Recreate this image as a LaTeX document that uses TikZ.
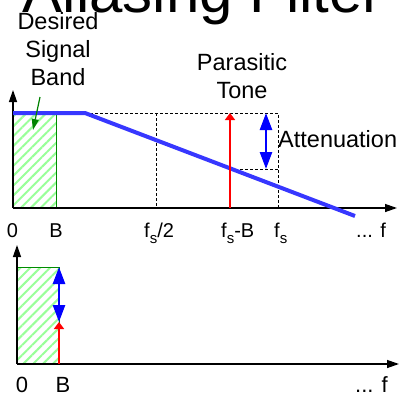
\documentclass[tikz,border=0pt]{standalone}
\usepackage{fontspec}
\setmainfont{Liberation Sans}
\usetikzlibrary{arrows.meta,patterns.meta}
\newcommand\subsc[1]{\raisebox{-6pt}{\fontsize{15}{15}\selectfont #1}}
\definecolor{filtblue}{RGB}{55,55,255}
\definecolor{darkgrn}{RGB}{0,130,0}
\begin{document}
\begin{tikzpicture}[x=1pt,y=-1pt,
  axis/.style={line width=1.3pt,-{Triangle[length=12pt,width=8pt]}},
  lbl/.style={font=\fontsize{20}{24}\selectfont,anchor=base,inner sep=0pt},
  lblb/.style={font=\fontsize{22}{26}\selectfont,anchor=base,inner sep=0pt},
  txt/.style={font=\fontsize{23.5}{28}\selectfont,anchor=base,inner sep=0pt},
  dsh/.style={line width=0.9pt,dash pattern=on 3pt off 2pt},
  hatch/.style={pattern={Lines[angle=45,distance=7pt,line width=2pt]},pattern color=green!40!white,draw=green!55!black,line width=0.8pt},
  filt/.style={filtblue,line width=4pt},
  tone/.style={red,line width=2.5pt,-{Triangle[length=7pt,width=10pt]}},
  atten/.style={blue,line width=2.5pt,{Triangle[length=17pt,width=12pt]}-{Triangle[length=17pt,width=12pt]}},
  grnarrow/.style={darkgrn,line width=1.2pt,-{Triangle[length=11pt,width=7pt]}}]
\useasboundingbox (0,0) rectangle (400,397);
\clip (0,0) rectangle (400,397);
% title (cut by the top edge)
\node[font=\fontsize{60}{72}\selectfont,anchor=base east,inner sep=0pt] (title) at (383,12) {Anti-Aliasing Filter};
% ---------- top plot ----------
\coordinate (o1) at (13,208);
\coordinate (yt1) at (13,90);
\coordinate (xt1) at (397,208);
\coordinate (pass) at (13,113);
\coordinate (knee) at (85,113);
\coordinate (fend) at (355,216);
\coordinate (bt) at (56,113);
\coordinate (hs) at (156,113);
\coordinate (hsb) at (156,208);
\coordinate (fsb) at (278,208);
\coordinate (fst) at (278,113);
\coordinate (tb) at (230,208);
\coordinate (tt) at (230,113);
\coordinate (tm) at (230,169);
\coordinate (fsm) at (278,169);
\coordinate (at) at (266,113);
\coordinate (ab) at (266,169);
\fill[hatch] (o1) rectangle (bt);
\draw[green!55!black,line width=0.8pt] (bt) -- (56,208);
\draw[dsh] (knee) -- (fst) -- (fsb);
\draw[dsh] (hs) -- (hsb);
\draw[dsh] (tm) -- (fsm);
\draw[axis] (o1) -- (yt1);
\draw[axis] (o1) -- (xt1);
\draw[filt] (pass) -- (knee) -- (fend);
\draw[tone] (tb) -- (tt);
\draw[atten] (at) -- (ab);
% labels
\node[txt] (d1) at (58,29) {Desired};
\node[txt] (d2) at (58,57) {Signal};
\node[txt] (d3) at (58,85) {Band};
\coordinate (gs) at (40,97);
\coordinate (ge) at (33,130);
\draw[grnarrow] (gs) -- (ge);
\node[txt] (p1) at (242,70) {Parasitic};
\node[txt] (p2) at (242,98) {Tone};
\node[txt,anchor=base west] (att) at (278,147) {Attenuation};
\node[lbl] (l0) at (12.5,237) {0};
\node[lbl] (lB) at (56,237) {B};
\node[lbl,anchor=base west] (lfs2) at (144,237) {f\subsc{s}/2};
\node[lbl,anchor=base west] (lfsb) at (221,237) {f\subsc{s}-B};
\node[lbl,anchor=base west] (lfs) at (274,237) {f\subsc{s}};
\node[lbl,anchor=base west] (lf) at (356,237) {... f};
% ---------- bottom plot ----------
\coordinate (o2) at (17,364);
\coordinate (yt2) at (17,245);
\coordinate (xt2) at (399,364);
\coordinate (bt2) at (59,267);
\coordinate (bb2) at (59,364);
\coordinate (tt2) at (59,322);
\fill[hatch] (o2) rectangle (bt2);
\draw[green!55!black,line width=0.8pt] (17,267) -- (bt2) -- (bb2);
\draw[axis] (o2) -- (yt2);
\draw[axis] (o2) -- (xt2);
\draw[tone] (bb2) -- (tt2);
\draw[atten] (bt2) -- (tt2);
\node[lblb] (m0) at (22,392) {0};
\node[lblb] (mB) at (63,392) {B};
\node[lblb,anchor=base west] (mf) at (355,392) {... f};
\end{tikzpicture}
\end{document}
